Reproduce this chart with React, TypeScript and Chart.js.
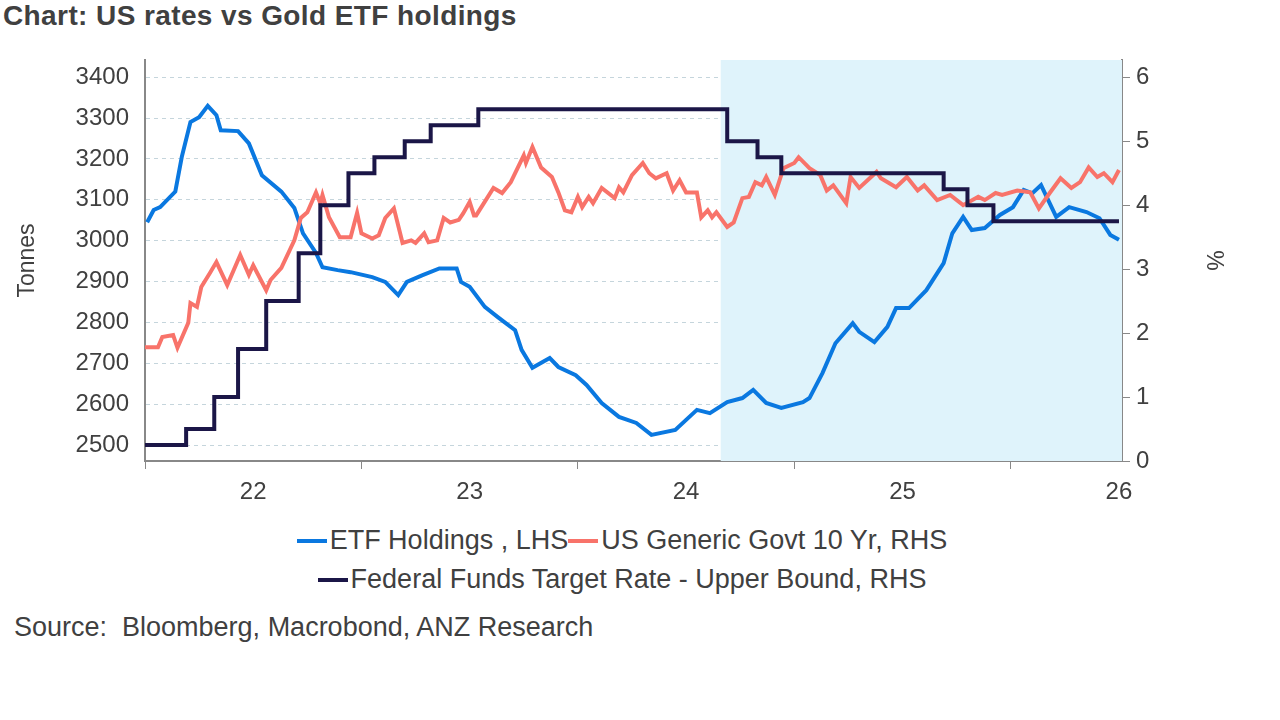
import { useEffect, useRef } from "react";
import Chart from "chart.js/auto";

const etfX = [2022.01, 2022.04, 2022.07, 2022.14, 2022.17, 2022.21, 2022.25, 2022.29, 2022.33, 2022.35, 2022.43, 2022.48, 2022.54, 2022.63, 2022.69, 2022.73, 2022.79, 2022.82, 2022.89, 2022.95, 2023.05, 2023.11, 2023.17, 2023.21, 2023.28, 2023.36, 2023.44, 2023.46, 2023.50, 2023.57, 2023.63, 2023.71, 2023.74, 2023.79, 2023.87, 2023.91, 2023.99, 2024.04, 2024.11, 2024.19, 2024.27, 2024.34, 2024.45, 2024.55, 2024.61, 2024.69, 2024.76, 2024.81, 2024.87, 2024.94, 2025.04, 2025.07, 2025.13, 2025.19, 2025.27, 2025.30, 2025.37, 2025.43, 2025.47, 2025.53, 2025.61, 2025.69, 2025.73, 2025.78, 2025.82, 2025.88, 2025.95, 2026.01, 2026.06, 2026.10, 2026.14, 2026.21, 2026.27, 2026.35, 2026.41, 2026.46, 2026.50];
const etfTonnes = [3045, 3075, 3082, 3120, 3205, 3290, 3302, 3330, 3307, 3270, 3268, 3238, 3160, 3120, 3080, 3018, 2970, 2935, 2928, 2923, 2911, 2899, 2867, 2899, 2915, 2932, 2932, 2899, 2887, 2838, 2813, 2781, 2733, 2689, 2713, 2691, 2671, 2647, 2603, 2569, 2554, 2525, 2537, 2586, 2578, 2605, 2615, 2635, 2603, 2591, 2605, 2615, 2676, 2749, 2798, 2777, 2752, 2789, 2835, 2835, 2879, 2945, 3018, 3058, 3026, 3031, 3063, 3082, 3124, 3116, 3136, 3058, 3082, 3070, 3055, 3014, 3002];

const ustX = [2022.00, 2022.06, 2022.08, 2022.13, 2022.15, 2022.20, 2022.21, 2022.24, 2022.26, 2022.30, 2022.33, 2022.38, 2022.44, 2022.48, 2022.50, 2022.56, 2022.58, 2022.63, 2022.69, 2022.72, 2022.75, 2022.79, 2022.81, 2022.82, 2022.85, 2022.90, 2022.95, 2022.98, 2023.00, 2023.05, 2023.08, 2023.11, 2023.15, 2023.19, 2023.23, 2023.25, 2023.29, 2023.31, 2023.35, 2023.38, 2023.41, 2023.45, 2023.47, 2023.50, 2023.52, 2023.53, 2023.61, 2023.65, 2023.69, 2023.75, 2023.76, 2023.79, 2023.83, 2023.88, 2023.91, 2023.94, 2023.97, 2024.00, 2024.02, 2024.05, 2024.07, 2024.11, 2024.17, 2024.19, 2024.21, 2024.25, 2024.30, 2024.33, 2024.36, 2024.41, 2024.44, 2024.47, 2024.50, 2024.55, 2024.57, 2024.60, 2024.62, 2024.64, 2024.69, 2024.72, 2024.76, 2024.79, 2024.82, 2024.85, 2024.87, 2024.91, 2024.95, 2025.00, 2025.02, 2025.07, 2025.12, 2025.15, 2025.18, 2025.24, 2025.26, 2025.30, 2025.38, 2025.40, 2025.47, 2025.52, 2025.57, 2025.60, 2025.66, 2025.72, 2025.78, 2025.85, 2025.88, 2025.93, 2025.96, 2026.03, 2026.09, 2026.13, 2026.18, 2026.23, 2026.28, 2026.32, 2026.36, 2026.40, 2026.43, 2026.47, 2026.50];
const ustYield = [1.78, 1.78, 1.94, 1.97, 1.77, 2.16, 2.47, 2.41, 2.72, 2.94, 3.11, 2.75, 3.22, 2.91, 3.06, 2.67, 2.83, 3.02, 3.45, 3.80, 3.89, 4.20, 4.03, 4.16, 3.81, 3.50, 3.50, 3.88, 3.56, 3.48, 3.53, 3.80, 3.95, 3.41, 3.45, 3.41, 3.56, 3.42, 3.45, 3.80, 3.73, 3.77, 3.87, 4.05, 3.84, 3.84, 4.27, 4.19, 4.36, 4.78, 4.66, 4.91, 4.59, 4.44, 4.20, 3.92, 3.89, 4.13, 3.97, 4.13, 4.03, 4.27, 4.11, 4.28, 4.20, 4.47, 4.66, 4.50, 4.42, 4.50, 4.23, 4.39, 4.20, 4.20, 3.81, 3.92, 3.81, 3.89, 3.66, 3.73, 4.11, 4.13, 4.36, 4.31, 4.44, 4.16, 4.58, 4.66, 4.75, 4.58, 4.47, 4.23, 4.31, 4.03, 4.44, 4.27, 4.52, 4.42, 4.28, 4.44, 4.23, 4.31, 4.08, 4.16, 4.00, 4.13, 4.08, 4.19, 4.16, 4.23, 4.20, 3.95, 4.19, 4.42, 4.27, 4.36, 4.59, 4.44, 4.50, 4.36, 4.55];

const fedX = [2022.00, 2022.19, 2022.32, 2022.43, 2022.56, 2022.71, 2022.81, 2022.94, 2023.06, 2023.20, 2023.32, 2023.54, 2024.69, 2024.83, 2024.94, 2025.69, 2025.80, 2025.92, 2026.50];
const fedRate = [0.25, 0.5, 1.0, 1.75, 2.5, 3.25, 4.0, 4.5, 4.75, 5.0, 5.25, 5.5, 5.0, 4.75, 4.5, 4.25, 4.0, 3.75, 3.75];

const leftTicks = [2500, 2600, 2700, 2800, 2900, 3000, 3100, 3200, 3300, 3400];
const rightTicks = [0, 1, 2, 3, 4, 5, 6];
const xTicks = [2022, 2022.5, 2023, 2023.5, 2024, 2024.5, 2025, 2025.5, 2026, 2026.5];
const shadeFrom = 2024.66;

const FONT = "'Liberation Sans', Arial, sans-serif";
const TXT = "#404040";

const pts = (xs: number[], ys: number[]) => xs.map((x, i) => ({ x, y: ys[i] }));

const shadePlugin = {
  id: "shade",
  beforeDatasetsDraw(chart: any) {
    const { ctx, chartArea, scales } = chart;
    const x0 = scales.x.getPixelForValue(shadeFrom);
    ctx.save();
    ctx.fillStyle = "#dff3fb";
    ctx.fillRect(x0, chartArea.top, chartArea.right - x0, chartArea.bottom - chartArea.top);
    ctx.restore();
  },
};

function LegendItem({ color, label }: { color: string; label: string }) {
  return (
    <span style={{ display: "inline-flex", alignItems: "center" }}>
      <span style={{ display: "inline-block", width: 30, height: 4, background: color, marginRight: 3 }} />
      {label}
    </span>
  );
}

const row = { height: 39, display: "flex", justifyContent: "center", alignItems: "center" } as const;

export default function App() {
  const ref = useRef<HTMLCanvasElement>(null);

  useEffect(() => {
    if (!ref.current) return;
    const chart = new Chart(ref.current, {
      type: "line",
      data: {
        datasets: [
          { label: "Federal Funds Target Rate - Upper Bound, RHS", data: pts(fedX, fedRate), yAxisID: "y1", borderColor: "#1b1647", borderWidth: 4, stepped: "before", pointRadius: 0 },
          { label: "US Generic Govt 10 Yr, RHS", data: pts(ustX, ustYield), yAxisID: "y1", borderColor: "#f8736a", borderWidth: 4, pointRadius: 0, tension: 0 },
          { label: "ETF Holdings , LHS", data: pts(etfX, etfTonnes), yAxisID: "y", borderColor: "#0a78e0", borderWidth: 4, pointRadius: 0, tension: 0 },
        ],
      },
      options: {
        responsive: false,
        animation: false,
        layout: { padding: { top: 60, left: 14, right: 53, bottom: 0 } },
        plugins: { legend: { display: false }, tooltip: { enabled: false } },
        scales: {
          x: {
            type: "linear",
            min: 2022,
            max: 2026.514,
            afterBuildTicks: (s: any) => { s.ticks = xTicks.map((v) => ({ value: v })); },
            afterFit: (s: any) => { s.height = 59; },
            grid: {
              drawOnChartArea: false,
              tickLength: 8,
              tickColor: (c: any) => (c.tick && c.tick.value % 1 ? "rgba(0,0,0,0)" : "#888"),
            },
            border: { color: "#888", width: 2 },
            ticks: {
              autoSkip: false,
              maxRotation: 0,
              color: TXT,
              font: { family: FONT, size: 24 },
              padding: 9,
              callback: (v: any) => (v % 1 ? String(Math.floor(v) - 2000) : ""),
            },
          },
          y: {
            position: "left",
            min: 2461,
            max: 3442,
            afterBuildTicks: (s: any) => { s.ticks = leftTicks.map((v) => ({ value: v })); },
            afterFit: (s: any) => { s.width = 131; },
            grid: { color: "#c5d5dc", lineWidth: 1, tickLength: 0 },
            border: { color: "#888", width: 2, dash: [4, 4] },
            ticks: { color: TXT, font: { family: FONT, size: 24 }, padding: 16, callback: (v: any) => String(v) },
            title: { display: true, text: "Tonnes", color: TXT, font: { family: FONT, size: 23 }, padding: 0 },
          },
          y1: {
            position: "right",
            min: 0,
            max: 6.27,
            afterBuildTicks: (s: any) => { s.ticks = rightTicks.map((v) => ({ value: v })); },
            afterFit: (s: any) => { s.width = 105; },
            grid: { drawOnChartArea: false, tickLength: 8, tickColor: "#888" },
            border: { color: "#888", width: 2 },
            ticks: { color: TXT, font: { family: FONT, size: 24 }, padding: 6 },
            title: { display: true, text: "%", color: TXT, font: { family: FONT, size: 23 }, padding: 0 },
          },
        },
      },
      plugins: [shadePlugin],
    } as any);
    return () => chart.destroy();
  }, []);

  return (
    <div style={{ position: "absolute", left: 0, top: 0, width: 1280, height: 720, background: "#fff", fontFamily: FONT, color: TXT }}>
      <div style={{ position: "absolute", left: 3, top: 0, fontSize: 28, fontWeight: "bold", letterSpacing: 0.4 }}>Chart: US rates vs Gold ETF holdings</div>
      <canvas ref={ref} width={1280} height={520} style={{ position: "absolute", left: 0, top: 0 }} />
      <div style={{ position: "absolute", left: 0, top: 521, width: 1244, fontSize: 27 }}>
        <div style={row}><LegendItem color="#0a78e0" label="ETF Holdings , LHS" /><LegendItem color="#f8736a" label="US Generic Govt 10 Yr, RHS" /></div>
        <div style={row}><LegendItem color="#1b1647" label="Federal Funds Target Rate - Upper Bound, RHS" /></div>
      </div>
      <div style={{ position: "absolute", left: 14, top: 612, fontSize: 27 }}>Source:&nbsp; Bloomberg, Macrobond, ANZ Research</div>
    </div>
  );
}
